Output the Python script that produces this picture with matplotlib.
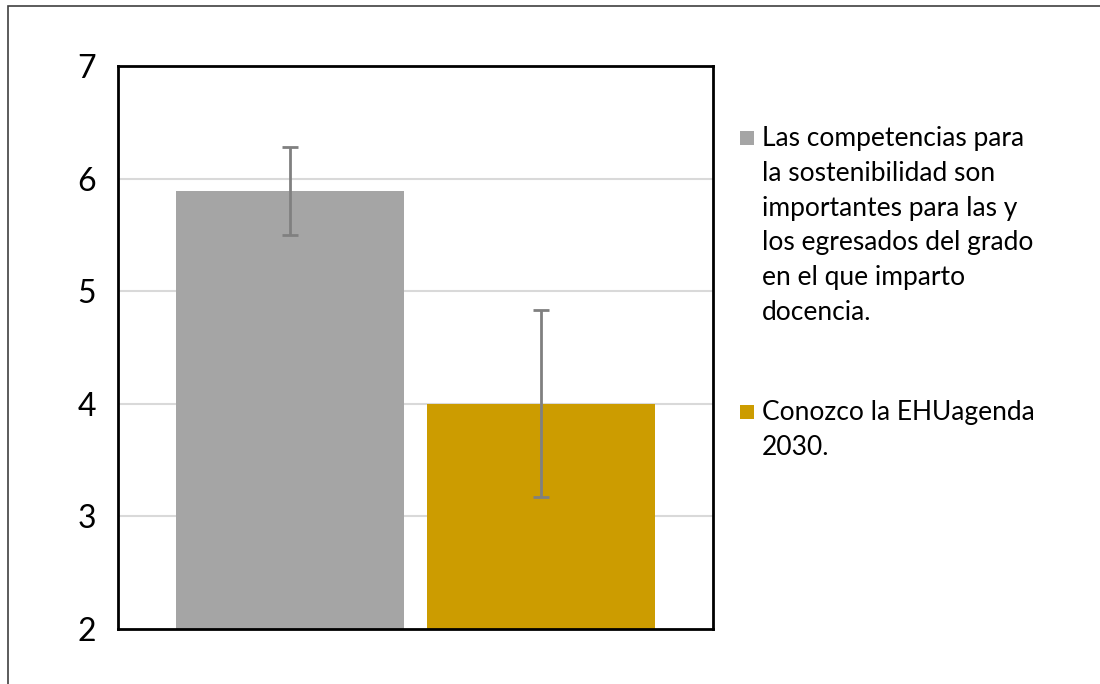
import matplotlib
matplotlib.use("Agg")
import matplotlib.pyplot as plt
from matplotlib.patches import Rectangle

# Data
series_labels = [
    "Las competencias para\nla sostenibilidad son\nimportantes para las y\nlos egresados del grado\nen el que imparto\ndocencia.",
    "Conozco la EHUagenda\n2030.",
]
means = [5.89, 4.00]
errors = [0.39, 0.83]
colors = ["#a5a5a5", "#cc9c00"]
y_ticks = [2, 3, 4, 5, 6, 7]

W, H = 1100, 684
DPI = 100
plt.rcParams["font.family"] = ["Lato", "DejaVu Sans"]

fig = plt.figure(figsize=(W / DPI, H / DPI), dpi=DPI)
fig.patch.set_facecolor("white")


def fx(px):
    return px / W


def fy(py):
    return 1 - py / H


# Plot area
ax_l, ax_r, ax_t, ax_b = 118, 713, 66, 629
ax = fig.add_axes([fx(ax_l), fy(ax_b), fx(ax_r - ax_l), (ax_b - ax_t) / H])

positions = list(range(len(means)))
ax.bar(positions, [m - y_ticks[0] for m in means], bottom=y_ticks[0],
       width=0.912, color=colors, zorder=2)
ax.errorbar(positions, means, yerr=errors, fmt="none", ecolor="#808080",
            elinewidth=2, capsize=6, capthick=2, zorder=3)

ax.set_xlim(-0.687, 1.687)
ax.set_ylim(y_ticks[0], y_ticks[-1])
ax.set_yticks(y_ticks)
ax.set_yticklabels([str(t) for t in y_ticks], fontsize=23)
ax.set_xticks([])
ax.tick_params(axis="y", length=0, pad=16)
for t in y_ticks[1:-1]:
    ax.axhline(t, color="#d9d9d9", linewidth=1.5, zorder=1)
for s in ax.spines.values():
    s.set_linewidth(2)
    s.set_color("black")

# Legend
leg_x = 740
leg_entries_y = [138, 412]
for label, color, y0 in zip(series_labels, colors, leg_entries_y):
    fig.patches.append(Rectangle((fx(leg_x), fy(y0 + 7)), fx(14), 14 / H,
                                 transform=fig.transFigure, facecolor=color,
                                 edgecolor="none"))
    fig.text(fx(762), fy(y0 - 12), label, fontsize=19, va="top", ha="left",
             linespacing=1.49, color="black")

# Outer frame
fig.patches.append(Rectangle((fx(8), fy(H + 20)), fx(W + 20), (H + 20 - 6) / H,
                             transform=fig.transFigure, facecolor="none",
                             edgecolor="#404040", linewidth=1.2))

fig.savefig("out.png", dpi=DPI)
